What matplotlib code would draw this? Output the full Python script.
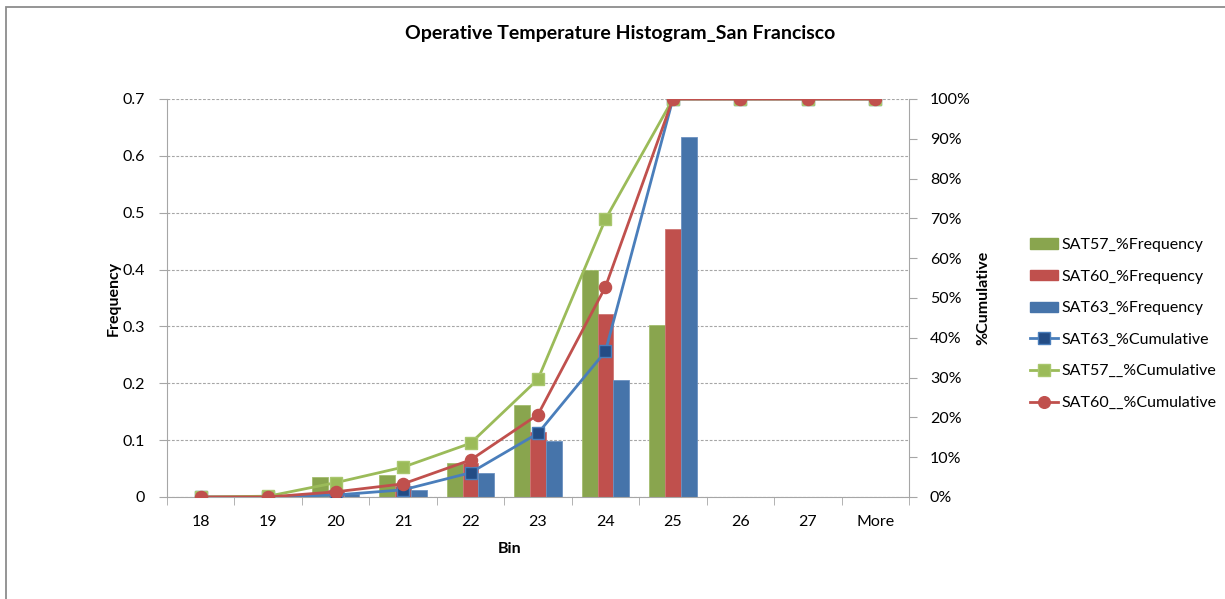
import matplotlib
matplotlib.use("Agg")
import matplotlib.pyplot as plt
import matplotlib.ticker as ticker
from matplotlib.patches import Rectangle
from matplotlib.lines import Line2D
import numpy as np

plt.rcParams['font.family'] = ['Lato', 'DejaVu Sans']

# histogram bins
bins = ["18", "19", "20", "21", "22", "23", "24", "25", "26", "27", "More"]

# relative frequency per bin
sat57_freq = [0.0, 0.002, 0.036, 0.039, 0.060, 0.161, 0.400, 0.302, 0.0, 0.0, 0.0]
sat60_freq = [0.0, 0.0, 0.013, 0.020, 0.060, 0.114, 0.321, 0.471, 0.0, 0.0, 0.0]
sat63_freq = [0.0, 0.0, 0.005, 0.013, 0.043, 0.099, 0.206, 0.634, 0.0, 0.0, 0.0]

# cumulative share per bin
sat63_cum = [0.0, 0.0, 0.005, 0.018, 0.061, 0.160, 0.366, 1.0, 1.0, 1.0, 1.0]
sat57_cum = [0.0, 0.002, 0.036, 0.075, 0.135, 0.296, 0.698, 1.0, 1.0, 1.0, 1.0]
sat60_cum = [0.0, 0.0, 0.013, 0.033, 0.093, 0.207, 0.528, 1.0, 1.0, 1.0, 1.0]

GREEN_BAR = "#89A54E"
RED_BAR = "#C0504D"
BLUE_BAR = "#4674AA"
GREEN_LINE = "#9BBB59"
RED_LINE = "#C0504D"
BLUE_LINE = "#4A7EBB"
AXIS_GRAY = "#A6A6A6"
FS = 11.5

W, H = 1225, 599
fig = plt.figure(figsize=(W / 100, H / 100), dpi=100)

# outer chart border (only left and top edges fall inside the image)
fig.patches.append(Rectangle((6 / W, -0.5), 1.5, (H - 7) / H + 0.5, transform=fig.transFigure,
                             fill=False, edgecolor="#8C8C8C", linewidth=1.3))

ax = fig.add_axes([167 / W, (H - 497) / H, (909 - 167) / W, (497 - 99) / H])
x = np.arange(len(bins))
bw = 0.235
ax.bar(x - bw, sat57_freq, bw, color=GREEN_BAR, edgecolor="#A3BD6E", linewidth=0.6, zorder=2)
ax.bar(x, sat60_freq, bw, color=RED_BAR, edgecolor="#CF7573", linewidth=0.6, zorder=2)
ax.bar(x + bw, sat63_freq, bw, color=BLUE_BAR, edgecolor="#6C91C0", linewidth=0.6, zorder=2)

ax.set_xlim(-0.5, len(bins) - 0.5)
ax.set_ylim(0, 0.7)
ax.yaxis.set_major_locator(ticker.MultipleLocator(0.1))
ax.yaxis.set_major_formatter(ticker.FuncFormatter(lambda v, p: "0" if v == 0 else "%.1f" % v))
ax.grid(axis="y", color="#A6A6A6", linestyle=(0, (2.5, 1.5)), linewidth=0.8, zorder=0)
ax.set_xticks(x)
ax.set_xticklabels(bins)
ax.set_xticks(np.arange(-0.5, len(bins)), minor=True)
ax.tick_params(axis="x", which="major", length=0, pad=13, labelsize=FS)
ax.tick_params(axis="x", which="minor", length=6, color=AXIS_GRAY, direction="out")
ax.tick_params(axis="y", length=6, color=AXIS_GRAY, pad=10, labelsize=FS)
for side in ["top", "right"]:
    ax.spines[side].set_visible(False)
for side in ["left", "bottom"]:
    ax.spines[side].set_color(AXIS_GRAY)
ax.spines["left"].set_bounds(0, 0.7)

ax2 = ax.twinx()
ax2.set_ylim(0, 1)
ax2.yaxis.set_major_locator(ticker.MultipleLocator(0.1))
ax2.yaxis.set_major_formatter(ticker.PercentFormatter(1.0, decimals=0))
ax2.tick_params(axis="y", length=6, color=AXIS_GRAY, pad=9, labelsize=FS)
for side in ["top", "left", "bottom"]:
    ax2.spines[side].set_visible(False)
ax2.spines["right"].set_color(AXIS_GRAY)

ms = 8.4
ax2.plot(x, sat63_cum, color=BLUE_LINE, linewidth=2, marker="s", markersize=ms,
         markerfacecolor="#234C85", markeredgecolor=BLUE_LINE, markeredgewidth=1, zorder=3)
ax2.plot(x, sat57_cum, color=GREEN_LINE, linewidth=2, marker="s", markersize=ms,
         markerfacecolor=GREEN_LINE, markeredgecolor="#A9C76E", markeredgewidth=1, zorder=4)
ax2.plot(x, sat60_cum, color=RED_LINE, linewidth=2, marker="o", markersize=ms + 0.3,
         markerfacecolor=RED_LINE, markeredgecolor=RED_LINE, zorder=5)
ax2.set_xlim(-0.5, len(bins) - 0.5)

fig.text(620 / W, 1 - 33 / H, "Operative Temperature Histogram_San Francisco",
         ha="center", va="center", fontsize=14, fontweight="bold")
fig.text(510 / W, 1 - 549 / H, "Bin", ha="center", va="center", fontsize=FS, fontweight="bold")
fig.text(114 / W, 1 - 298 / H, "Frequency", ha="center", va="center", rotation=90,
         fontsize=FS, fontweight="bold")
fig.text(983 / W, 1 - 298 / H, "%Cumulative", ha="center", va="center", rotation=90,
         fontsize=FS, fontweight="bold")

handles = [
    Rectangle((0, 0), 1, 1, color=GREEN_BAR),
    Rectangle((0, 0), 1, 1, color=RED_BAR),
    Rectangle((0, 0), 1, 1, color=BLUE_BAR),
    Line2D([], [], color=BLUE_LINE, linewidth=2, marker="s", markersize=ms,
           markerfacecolor="#234C85", markeredgecolor=BLUE_LINE),
    Line2D([], [], color=GREEN_LINE, linewidth=2, marker="s", markersize=ms,
           markerfacecolor=GREEN_LINE, markeredgecolor="#A9C76E"),
    Line2D([], [], color=RED_LINE, linewidth=2, marker="o", markersize=ms,
           markerfacecolor=RED_LINE),
]
labels = ["SAT57_%Frequency", "SAT60_%Frequency", "SAT63_%Frequency",
          "SAT63_%Cumulative", "SAT57__%Cumulative", "SAT60__%Cumulative"]
fig.legend(handles, labels, loc="center left", bbox_to_anchor=(1022 / W, 1 - 324 / H),
           frameon=False, fontsize=FS, handlelength=1.75, handleheight=0.6,
           handletextpad=0.25, labelspacing=1.1, borderpad=0)

fig.savefig("out.png", dpi=100)
